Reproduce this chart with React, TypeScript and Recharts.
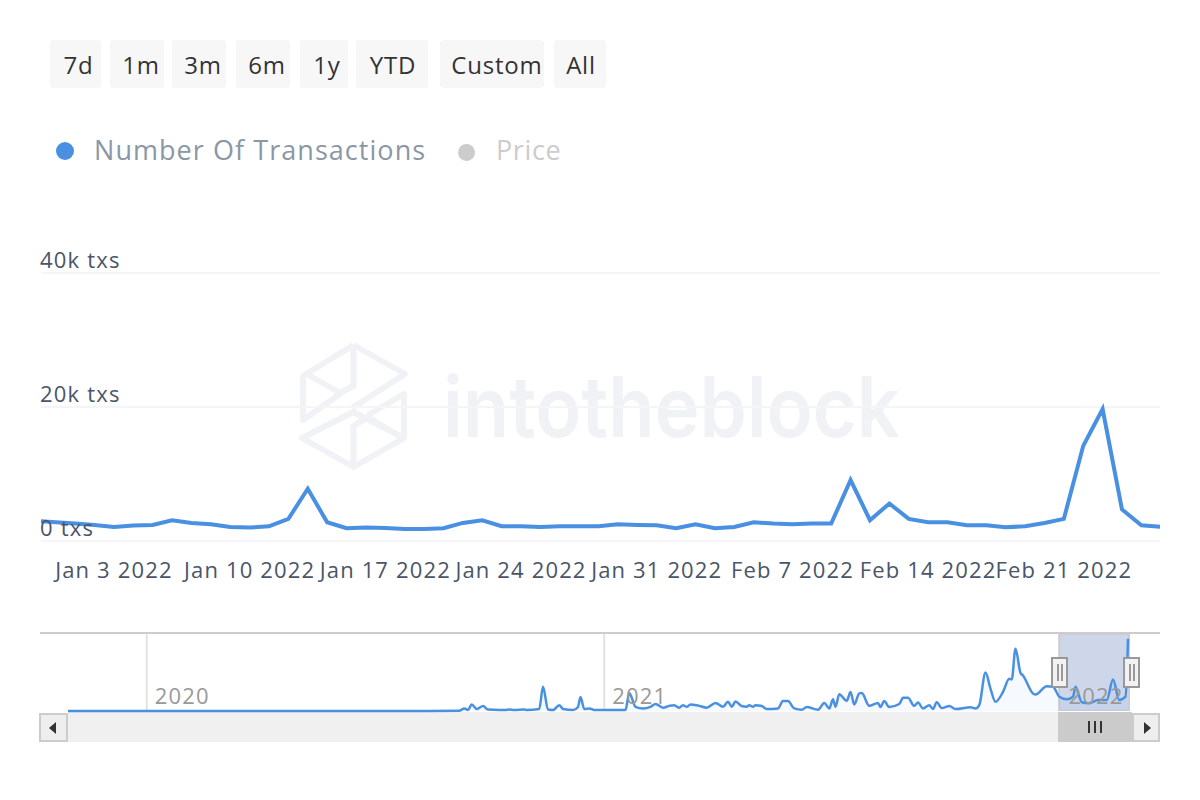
import React from 'react';
import { LineChart, Line, XAxis, YAxis, CartesianGrid, AreaChart, Area, ReferenceArea } from 'recharts';

const FONT = '"Open Sans", sans-serif';
const rangeButtons = ['7d', '1m', '3m', '6m', '1y', 'YTD', 'Custom', 'All'];
const buttonLefts = [50, 110, 172, 236, 300, 356, 440, 554];
const buttonWidths = [51, 54, 54, 54, 48, 72, 104, 52];
const buttonTextShift = [6, 8, 8, 8, 6, 2, 10, 2];

const dayOffsets = [-4,-3,-2,-1,0,1,2,3,4,5,6,7,8,9,10,11,12,13,14,15,16,17,18,19,20,21,22,23,24,25,26,27,28,29,30,31,32,33,34,35,36,37,38,39,40,41,42,43,44,45,46,47,48,49,50,51,52,53,54];
const txThousands = [3.0,2.8,2.6,2.4,2.1,2.3,2.4,3.1,2.7,2.5,2.1,2.0,2.2,3.3,7.8,2.8,1.9,2.0,1.95,1.8,1.8,1.9,2.7,3.1,2.2,2.2,2.1,2.2,2.2,2.2,2.5,2.4,2.35,1.9,2.5,1.9,2.1,2.8,2.6,2.5,2.6,2.6,9.1,3.1,5.6,3.3,2.8,2.8,2.35,2.35,2.05,2.2,2.7,3.3,14.2,19.7,4.7,2.35,2.1];
const xTicks = [0, 7, 14, 21, 28, 35, 42, 49];
const xTickLabels = ['Jan 3 2022', 'Jan 10 2022', 'Jan 17 2022', 'Jan 24 2022', 'Jan 31 2022', 'Feb 7 2022', 'Feb 14 2022', 'Feb 21 2022'];
const yTicks = [0, 20, 40];
const yTickLabels = ['0 txs', '20k txs', '40k txs'];

const navDays = [-63,226,250,254,257,260,264,269,273,282,287,290,294,302,304,314,317,321,325,330,333,341,345,347,350,354,358,366,383,386,391,397,403,407,413,418,422,426,429,432,435,441,448,455,461,465,468,471,476,480,482,485,487,492,496,505,509,513,518,524,528,537,542,546,549,551,554,560,563,566,570,572,578,585,587,590,594,602,605,609,614,617,621,626,629,632,636,642,647,659,663,666,671,675,679,685,690,692,695,699,701,709,711,720,725,730,736,741,743,748,754,761,768,773,778,783,785];
const navValues = [0,0,0.05,0.7,0.3,1.75,0.55,1.35,0.4,0.27,0.27,0.4,0.27,0.4,0.27,0.55,6.6,0.4,0.27,1.6,0.55,0.27,1.1,3.8,0.55,0.7,0.27,0.27,0.27,4.9,1.15,0.7,1.15,1.9,0.9,1.4,1.6,0.9,1.6,1.15,1.8,1.5,0.9,2.2,1.15,2.5,1.15,2.6,1.35,1.15,1.6,1.15,1.6,1.35,0.55,0.7,2.7,2.7,0.7,0.35,1.1,0.35,2.2,0.7,3.2,1.15,4.6,2.8,5.2,1.8,4.8,4.9,1.4,2.2,1.1,2.7,1.1,1.9,3.6,3.6,1.4,2.3,0.7,1.6,0.55,2.4,0.8,1.35,0.55,1.0,0.7,1.6,10.5,6.1,2.5,5.2,8.8,8.6,17,10.4,9.7,4.8,4.5,6.75,6.6,3.9,3.2,3.9,6.6,2.4,2.1,3,3,8.6,3,3.9,19.7];
const navTicks = [0, 366, 731];
const navTickLabels = ['2020', '2021', '2022'];

const mainData = dayOffsets.map((day, i) => ({ day, tx: txThousands[i] }));
const navData = navDays.map((day, i) => ({ day, tx: navValues[i] }));

const BLUE = '#4a90e2';

const box = (l: number, t: number, w: number, h: number, extra: React.CSSProperties = {}): React.CSSProperties => ({
  position: 'absolute', left: l, top: t, width: w, height: h, boxSizing: 'border-box', ...extra,
});

function XTick({ x, payload }: any) {
  const idx = xTicks.indexOf(payload.value);
  return (
    <text x={x} y={578} textAnchor="middle" fontFamily={FONT} fontSize={22} letterSpacing={1.15} fill="#4a5568">
      {xTickLabels[idx]}
    </text>
  );
}
function YTick({ y, payload }: any) {
  const idx = yTicks.indexOf(payload.value);
  return (
    <text x={40} y={y - 5} textAnchor="start" fontFamily={FONT} fontSize={22} letterSpacing={1.2} fill="#4a5568">
      {yTickLabels[idx]}
    </text>
  );
}
function NavTick({ x, payload }: any) {
  const idx = navTicks.indexOf(payload.value);
  return (
    <text x={x + 8} y={704} textAnchor="start" fontFamily={FONT} fontSize={22} letterSpacing={1.2} fill="#999999">
      {navTickLabels[idx]}
    </text>
  );
}

function Watermark() {
  const c = '#f1f2f6';
  return (
    <svg width={1200} height={800} style={{ position: 'absolute', left: 0, top: 0 }}>
      <g fill="none" stroke={c} strokeWidth={6} strokeLinejoin="round">
        <path d="M353.5 345 L405 374 L352 408 M353.5 345 L303 376 V420 L340 394 M353.5 345 V386 L340 393 L305 373" />
        <path d="M353.5 467 L302 438 L353.5 412 L404 438 Z M353.5 467 V426 L368 417 L402 438 M404 438 V394 L368 415" />
      </g>
      <text x={443} y={437} fontFamily="Inter, Roboto, sans-serif" fontSize={84} fontWeight={600} fill={c} textLength={457} lengthAdjust="spacingAndGlyphs">intotheblock</text>
    </svg>
  );
}

function Handle({ x }: { x: number }) {
  return (
    <div style={box(x, 657, 17, 31, { background: '#f2f2f2', border: '2px solid #999' })}>
      <div style={box(4, 5, 2, 17, { background: '#999' })} />
      <div style={box(8, 5, 2, 17, { background: '#999' })} />
    </div>
  );
}

export default function App() {
  return (
    <div style={{ position: 'absolute', left: 0, top: 0, width: 1200, height: 800, background: '#fff', overflow: 'hidden', fontFamily: FONT }}>
      <Watermark />
      {rangeButtons.map((b, i) => (
        <div key={b} style={box(buttonLefts[i], 40, buttonWidths[i], 48, { background: '#f7f7f7', borderRadius: 3, color: '#333', fontSize: 24, letterSpacing: 0.8, lineHeight: '50px', textAlign: 'center', paddingLeft: buttonTextShift[i] })}>{b}</div>
      ))}
      <div style={box(56, 142, 18, 18, { background: BLUE, borderRadius: 9 })} />
      <div style={box(94, 130, 340, 40, { color: '#8a97a5', fontSize: 27, letterSpacing: 1.05, lineHeight: '40px', whiteSpace: 'nowrap' })}>Number Of Transactions</div>
      <div style={box(458, 144, 17, 17, { background: '#cccccc', borderRadius: 9 })} />
      <div style={box(496, 130, 90, 40, { color: '#cccccc', fontSize: 27, letterSpacing: 0.6, lineHeight: '40px' })}>Price</div>

      <div style={{ position: 'absolute', left: 0, top: 0 }}>
        <LineChart width={1200} height={620} data={mainData} margin={{ top: 273, left: 40, right: 40, bottom: 0 }}>
          <CartesianGrid vertical={false} stroke="#f5f5f7" strokeWidth={2} />
          <XAxis dataKey="day" type="number" domain={[-3.76, 53.96]} allowDataOverflow ticks={xTicks} interval={0} axisLine={false} tickLine={false} tick={<XTick />} height={79} />
          <YAxis type="number" domain={[0, 40]} ticks={yTicks} axisLine={false} tickLine={false} tick={<YTick />} width={1} />
          <Line dataKey="tx" type="linear" stroke={BLUE} strokeWidth={4} dot={false} isAnimationActive={false} />
        </LineChart>
      </div>

      <div style={box(40, 632, 1120, 2, { background: '#cccccc' })} />
      <div style={box(68, 712, 990, 30, { background: '#f0f0f0' })} />
      <div style={box(39, 713, 29, 29, { background: '#eeeeee', border: '2px solid #ccc' })} />
      <div style={{ position: 'absolute', left: 49, top: 722, width: 0, height: 0, borderTop: '6px solid transparent', borderBottom: '6px solid transparent', borderRight: '7px solid #333' }} />
      <div style={box(1058, 712, 74, 30, { background: '#cbcbcb' })} />
      {[1088, 1094, 1100].map((x) => <div key={x} style={box(x, 721, 2, 12, { background: '#333' })} />)}
      <div style={box(1132, 713, 28, 29, { background: '#eeeeee', border: '2px solid #ccc' })} />
      <div style={{ position: 'absolute', left: 1144, top: 722, width: 0, height: 0, borderTop: '6px solid transparent', borderBottom: '6px solid transparent', borderLeft: '7px solid #333' }} />

      <div style={{ position: 'absolute', left: 0, top: 0 }}>
        <AreaChart width={1200} height={760} data={navData} margin={{ top: 634, left: 68, right: 70, bottom: 0 }}>
          <CartesianGrid horizontal={false} verticalValues={navTicks} stroke="#e2e2e2" strokeWidth={2} />
          <ReferenceArea x1={730} x2={786} y1={0} y2={21} fill="#ced7ea" fillOpacity={1} stroke="#cccccc" strokeWidth={2} ifOverflow="hidden" />
          <XAxis dataKey="day" type="number" domain={[-63, 786.6]} ticks={navTicks} interval={0} axisLine={false} tickLine={false} tick={<NavTick />} height={49} />
          <YAxis type="number" domain={[0, 21]} hide />
          <Area dataKey="tx" type="monotone" stroke={BLUE} strokeWidth={2.5} fill={BLUE} fillOpacity={0.05} dot={false} isAnimationActive={false} />
        </AreaChart>
      </div>
      <Handle x={1051} />
      <Handle x={1123} />
    </div>
  );
}
